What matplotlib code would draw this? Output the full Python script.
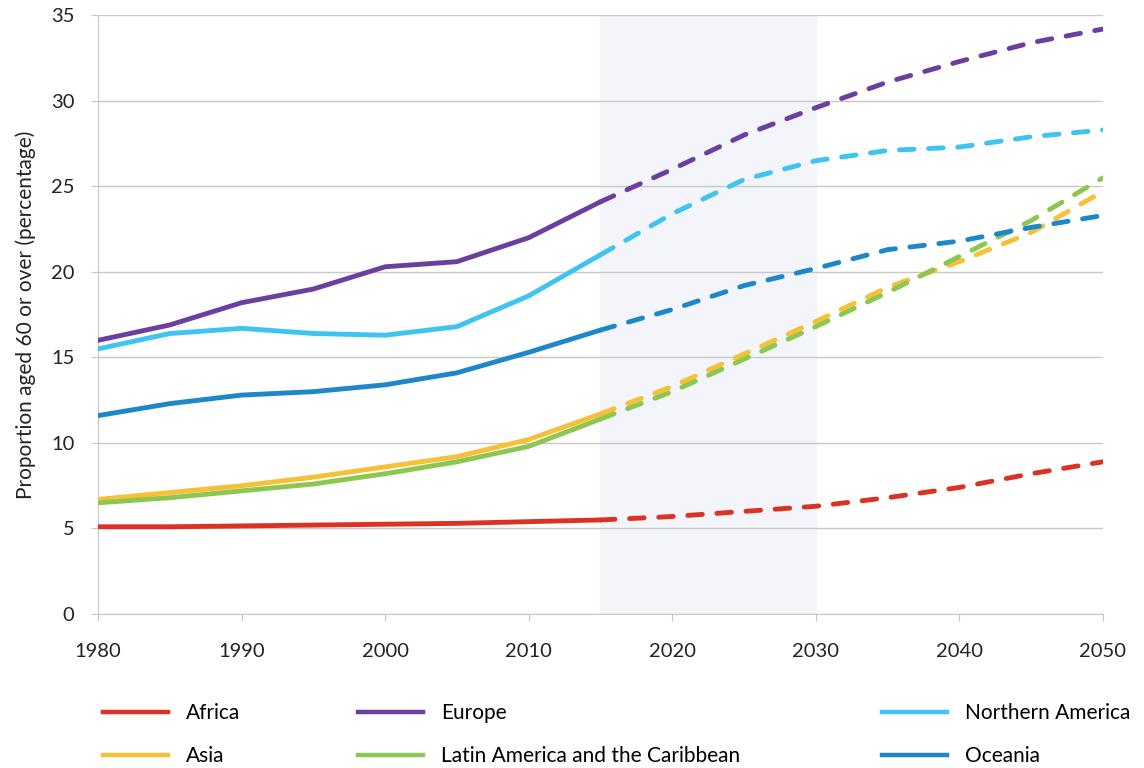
import matplotlib.pyplot as plt
from matplotlib.lines import Line2D

plt.rcParams['font.family'] = ['Lato', 'DejaVu Sans']

years = [1980, 1985, 1990, 1995, 2000, 2005, 2010, 2015,
         2020, 2025, 2030, 2035, 2040, 2045, 2050]

africa = [5.1, 5.1, 5.15, 5.2, 5.25, 5.3, 5.4, 5.5, 5.7, 6.0, 6.3, 6.8, 7.4, 8.2, 8.9]
asia = [6.7, 7.1, 7.5, 8.0, 8.6, 9.2, 10.2, 11.7, 13.3, 15.2, 17.1, 19.1, 20.6, 22.3, 24.7]
europe = [16.0, 16.9, 18.2, 19.0, 20.3, 20.6, 22.0, 24.1, 26.0, 28.0, 29.6, 31.1, 32.3, 33.4, 34.2]
latam = [6.5, 6.8, 7.2, 7.6, 8.2, 8.9, 9.8, 11.4, 13.0, 14.9, 16.8, 18.8, 20.9, 23.0, 25.5]
namerica = [15.5, 16.4, 16.7, 16.4, 16.3, 16.8, 18.6, 21.0, 23.4, 25.4, 26.5, 27.1, 27.3, 27.9, 28.3]
oceania = [11.6, 12.3, 12.8, 13.0, 13.4, 14.1, 15.3, 16.6, 17.8, 19.2, 20.2, 21.3, 21.8, 22.6, 23.3]

series = [
    ("Africa", africa, "#dc3223"),
    ("Asia", asia, "#f7c137"),
    ("Europe", europe, "#6b3fa0"),
    ("Latin America and the Caribbean", latam, "#8dc752"),
    ("Northern America", namerica, "#3ec4ef"),
    ("Oceania", oceania, "#1d87c9"),
]

split = years.index(2015)

fig = plt.figure(figsize=(11.44, 7.68), dpi=100)
ax = fig.add_axes([0.0857, 0.2005, 0.8783, 0.7795])

ax.axvspan(2015, 2030, color="#f3f5fa", zorder=0)

lw = 3.5
for name, vals, col in series:
    ax.plot(years[:split + 1], vals[:split + 1], color=col, lw=lw,
            solid_capstyle="round", zorder=3)
    ax.plot(years[split:], vals[split:], color=col, lw=lw,
            dashes=(3, 3), dash_capstyle="round", zorder=3)

ax.set_xlim(1980, 2050)
ax.set_ylim(0, 35)
ax.set_xticks(range(1980, 2051, 10))
ax.set_yticks(range(0, 36, 5))
ax.grid(axis="y", color="#c8c8c8", lw=1)
ax.set_axisbelow(True)
for s in ["top", "right"]:
    ax.spines[s].set_visible(False)
for s in ["left", "bottom"]:
    ax.spines[s].set_color("#c8c8c8")
ax.tick_params(axis="both", colors="#c8c8c8", labelcolor="#222222",
               labelsize=14.5, length=5)
ax.tick_params(axis="x", pad=16)
ax.tick_params(axis="y", pad=12)
ax.set_ylabel("Proportion aged 60 or over (percentage)", fontsize=15,
              color="#222222", labelpad=11)

# legend in three columns
cols = [(0.090, [0, 1]), (0.313, [2, 3]), (0.771, [4, 5])]
for x0, idx in cols:
    handles = [Line2D([], [], color=series[i][2], lw=3.2) for i in idx]
    labels = [series[i][0] for i in idx]
    fig.legend(handles, labels, loc="upper left", bbox_to_anchor=(x0, 0.084),
               frameon=False, fontsize=15, handlelength=3.1, handletextpad=0.9,
               labelspacing=1.1, borderaxespad=0, borderpad=0)

fig.savefig("out.png", dpi=100)
